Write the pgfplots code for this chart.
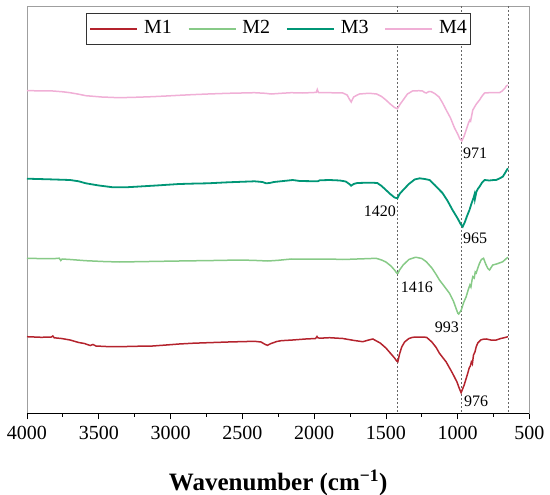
\documentclass[border=0pt]{standalone}
\usepackage{fontspec}
\setmainfont{Liberation Serif}
\usepackage{pgfplots}
\pgfplotsset{compat=1.18}
\definecolor{cMone}{RGB}{180,35,45}
\definecolor{cMtwo}{RGB}{135,202,135}
\definecolor{cMthree}{RGB}{0,150,118}
\definecolor{cMfour}{RGB}{240,175,214}
\begin{document}
\begin{tikzpicture}
\useasboundingbox (-27pt,-81.7pt) rectangle (523pt,413.3pt);
\begin{axis}[at={(0,0)}, anchor=south west, scale only axis,
  width=502.5pt, height=407.3pt,
  x dir=reverse, xmin=500, xmax=4000,
  y dir=reverse, ymin=6, ymax=413.3,
  xtick={500,1000,...,4000}, minor x tick num=1, ytick=\empty,
  xtick pos=bottom, tick align=outside,
  major tick length=6pt, minor tick length=3.5pt,
  axis line style={draw=gray!75, line width=0.8pt},
  tick style={black, line width=0.8pt},
  xticklabel style={font=\fontsize{20}{24}\selectfont, yshift=-3pt},
  /pgf/number format/assume math mode=true,
  /pgf/number format/1000 sep={},
  xlabel={\textbf{Wavenumber (cm\textsuperscript{−1})}},
  xlabel style={font=\fontsize{25}{29}\selectfont, at={(axis description cs:0.5,0)}, anchor=base, yshift=-77pt},
  legend columns=4,
  legend image code/.code={\draw[#1] (0pt,0pt) -- (47pt,0pt);},
  legend style={at={(0.5,0.983)}, anchor=north, draw=black!80, line width=0.8pt,
    inner xsep=3pt, inner ysep=6.5pt,
    font=\fontsize{20}{24}\selectfont,
    nodes={inner xsep=0pt, inner ysep=0pt, text height=14pt, text depth=4pt},
    /tikz/every odd column/.append style={column sep=6pt},
    /tikz/every even column/.append style={column sep=16pt}},
]
\addplot[forget plot, dash pattern=on 2pt off 2pt, color=black!60, line width=0.6pt] coordinates {(1420,6) (1420,413.3)};
\addplot[forget plot, dash pattern=on 2pt off 2pt, color=black!60, line width=0.6pt] coordinates {(976,6) (976,413.3)};
\addplot[forget plot, dash pattern=on 2pt off 2pt, color=black!60, line width=0.6pt] coordinates {(650,6) (650,413.3)};

% M1
\addplot[cMone, line width=1.5pt] coordinates {
(4000,336.7) (3900,337.3) (3830,337.0) (3820,336.0) (3810,337.8) (3760,338.5) (3700,340) (3640,342.5) (3600,343.5) (3560,345.5) (3540,344.5) (3520,346) (3450,346.5) (3355,346.7) (3250,346.3) (3125,346) (3030,345) (2940,344)
(2840,343.2) (2740,342.7) (2600,342) (2415,341.3) (2370,342) (2340,344.5) (2325,345.3) (2300,343.5) (2260,341.5) (2230,340.7) (2150,340) (2060,339) (1990,338.5) (1980,336.5) (1974,337.8) (1960,338.2) (1893,337.7) (1800,338.5) (1720,340.5) (1661,341.7) (1620,340) (1591,339)
(1540,343) (1500,348) (1470,353) (1440,358) (1425,361) (1417,361.7) (1405,354) (1390,347) (1370,342) (1340,338.5) (1315,337.3) (1270,337) (1217,337.3) (1180,342) (1150,347.5) (1127,353.3) (1080,362) (1036,373.3) (1005,382) (990,388) (976,392.7)
(955,385) (940,378) (930,373.3) (920,368) (912,366) (905,362) (898,364) (890,355) (880,352) (871,346.7) (860,343) (850,341.5) (840,340) (825,339.3) (800,339) (770,340) (732,340) (700,338.5) (670,337.5) (650,336.7)};
\addlegendentry{M1}

% M2
\addplot[cMtwo, line width=1.5pt] coordinates {
(4000,258.3) (3900,258.6) (3800,258.5) (3775,258.2) (3765,260.5) (3755,259) (3700,259.5) (3590,260.7) (3470,261.5) (3355,262) (3150,261.5) (2940,261) (2700,260.5) (2508,260) (2400,260.5) (2322,261) (2250,260.3) (2159,259) (2050,259.2) (1893,259) (1800,259.5) (1700,259) (1620,258.6) (1568,258.3)
(1530,260) (1500,262) (1465,266) (1440,270) (1425,273) (1416,273.3) (1405,270) (1380,265) (1340,259.5) (1300,257.5) (1289,257.3) (1250,258.5) (1219,261.7) (1180,268) (1150,274.5) (1127,280) (1090,287) (1057,293.3) (1030,301) (1010,309) (999,313.3) (993,314)
(975,310) (960,303) (941,296.7) (925,289) (915,285) (908,287) (900,280) (895,276.7) (885,278) (878,272) (871,273) (860,268) (848,263.3) (835,259.5) (820,258.3) (805,264) (790,268.5) (778,270) (765,267) (756,265) (730,264) (700,262.5) (686,261.7) (665,259) (650,257.3)};
\addlegendentry{M2}

% M3
\addplot[cMthree, line width=1.8pt] coordinates {
(4000,178.7) (3850,179.3) (3700,180) (3640,181.3) (3590,183.3) (3500,185.5) (3400,187.3) (3300,187.2) (3240,186.7) (3100,185.5) (2940,184) (2840,183.6) (2740,183.3) (2600,182.3) (2415,181.3) (2360,182) (2335,183.3) (2310,183) (2280,182) (2180,180.5) (2150,180) (2100,181) (1975,181.3) (1960,180.3) (1893,180)
(1820,180.5) (1780,181.5) (1755,184) (1742,185.7) (1725,184) (1700,183) (1650,182.8) (1600,182.7) (1560,183) (1530,186) (1500,190) (1470,194) (1440,197.5) (1420,198.3) (1405,194) (1380,190) (1340,184) (1300,179.5) (1265,178.3) (1230,179) (1196,180) (1160,185) (1130,189.5) (1106,193) (1070,201) (1036,210) (1000,218.5) (980,224) (965,226.7)
(950,222) (935,216) (918,210) (905,204) (895,200) (888,197) (883,194.5) (880,199) (870,192) (860,189) (848,186.7) (830,182.5) (813,180) (780,180.5) (750,180) (732,180) (710,178.5) (686,176.7) (670,173) (658,170) (650,168.3)};
\addlegendentry{M3}

% M4
\addplot[cMfour, line width=1.5pt] coordinates {
(4000,90.7) (3900,90.8) (3820,91) (3750,91.8) (3700,92.7) (3640,94.2) (3590,95.7) (3480,97) (3360,97.7) (3250,97.3) (3130,96.7) (3030,96) (2940,95.3) (2840,94.6) (2740,94) (2600,93.3) (2415,92.7) (2340,93.3) (2300,94) (2230,93.3) (2160,92.7) (2080,93) (2000,92.5) (1985,92.5) (1978,89.5) (1970,92.5) (1893,92.7) (1800,93) (1770,95)
(1755,99) (1742,102) (1725,97) (1700,95) (1684,94) (1640,93.5) (1600,93.5) (1565,94) (1530,96.5) (1500,100) (1470,104) (1440,107.5) (1420,108.7) (1400,104) (1380,100) (1350,94) (1315,91) (1270,90.7) (1245,91) (1230,92.5) (1219,93) (1200,91.5) (1184,91.7) (1160,93.5) (1130,97) (1105,103) (1080,110) (1050,118) (1022,128) (1000,134) (985,139) (971,141)
(955,136) (941,130) (925,123) (915,120) (910,121) (895,110) (870,104) (848,100) (830,96) (813,93) (780,92.7) (750,92.7) (709,92.7) (690,91) (670,88) (662,86) (650,85)};
\addlegendentry{M4}

\node[anchor=base west, inner sep=0pt, font=\fontsize{16}{19}\selectfont] at (axis cs:963,159) {971};
\node[anchor=base east, inner sep=0pt, font=\fontsize{16}{19}\selectfont] at (axis cs:1430,216.7) {1420};
\node[anchor=base west, inner sep=0pt, font=\fontsize{16}{19}\selectfont] at (axis cs:963,243.3) {965};
\node[anchor=base west, inner sep=0pt, font=\fontsize{16}{19}\selectfont] at (axis cs:1397,292.3) {1416};
\node[anchor=base east, inner sep=0pt, font=\fontsize{16}{19}\selectfont] at (axis cs:991,332) {993};
\node[anchor=base west, inner sep=0pt, font=\fontsize{16}{19}\selectfont] at (axis cs:956,406.7) {976};
\draw[black, line width=1pt] (axis description cs:0,0) -- (axis description cs:1,0);
\end{axis}
\end{tikzpicture}
\end{document}
